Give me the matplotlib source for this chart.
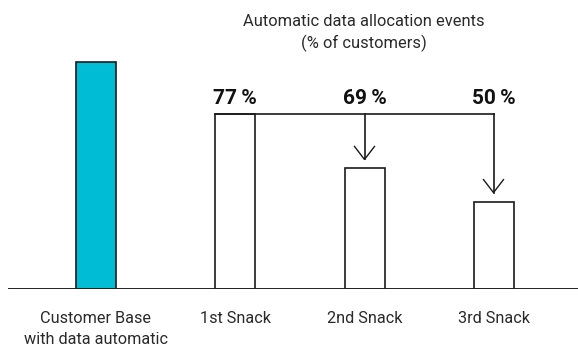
import matplotlib
matplotlib.use("Agg")
import matplotlib.pyplot as plt

categories = ["Customer Base\nwith data automatic", "1st Snack", "2nd Snack", "3rd Snack"]
heights = [100, 77, 53.1, 38.5]
pct_labels = ["77\u2009%", "69\u2009%", "50\u2009%"]
title = "Automatic data allocation events\n(% of customers)"

plt.rcParams['font.family'] = ['Roboto', 'DejaVu Sans']

W, H = 578, 347
fig = plt.figure(figsize=(W / 100, H / 100), dpi=100)
base_px = 289          # baseline from top
unit_px = 2.27         # px per value unit
ax = fig.add_axes([0, (H - base_px) / H, 1, base_px / H])
ax.set_ylim(0, base_px / unit_px)
ax.set_xlim(0, W)
ax.axis("off")

xs = [95.5, 235, 364.5, 493.5]   # bar centre positions (layout, pixels)
bw = 40
colors = ["#00bcd4", "white", "white", "white"]
ax.bar(xs, heights, width=bw, color=colors, edgecolor="#1a1a1a", linewidth=1.2, zorder=3)

# baseline
ax.axhline(0, xmin=9 / W, xmax=1, color="#222222", linewidth=1.4, zorder=4)

# bracket
top = heights[1]
ax.plot([xs[1] - bw / 2, xs[3]], [top, top], color="#1a1a1a", lw=1.2, zorder=4)
gap = 9 / unit_px
chev_h = 13 / unit_px
chev_w = 10
for i in (2, 3):
    tip = heights[i] + gap
    ax.plot([xs[i], xs[i]], [top, tip], color="#1a1a1a", lw=1.2, zorder=4)
    ax.plot([xs[i] - chev_w, xs[i], xs[i] + chev_w], [tip + chev_h, tip, tip + chev_h],
            color="#1a1a1a", lw=1.0, zorder=4)

# percent labels
for i, lab in zip((1, 2, 3), pct_labels):
    ax.annotate(lab, (xs[i], top), xytext=(0, 11), textcoords="offset points",
                ha="center", va="center", fontsize=15, fontweight="bold", color="#111111")

# category labels
for x, lab in zip(xs, categories):
    ax.annotate(lab, (x, 0), xytext=(0, -16), textcoords="offset points",
                ha="center", va="top", fontsize=11.7,
                color="#2a2a2a", linespacing=1.45)

# title
fig.text(364 / W, 1 - 14 / H, title, ha="center", va="top", fontsize=11.9,
         color="#2a2a2a", linespacing=1.4)

fig.savefig("out.png", dpi=100)
